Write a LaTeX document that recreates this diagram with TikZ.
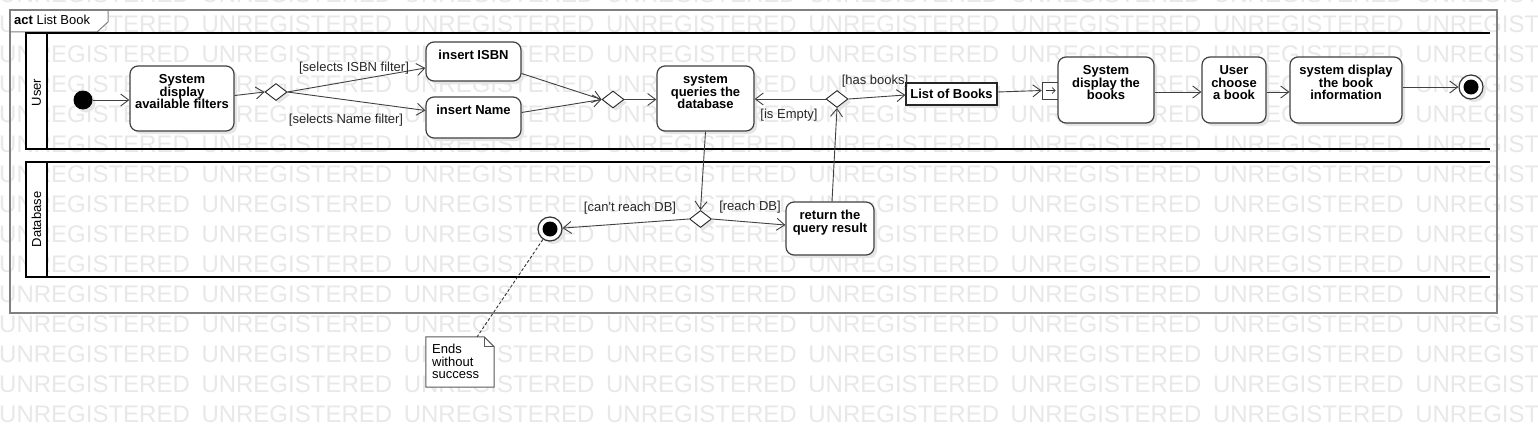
\documentclass[tikz,border=0pt]{standalone}
\usepackage{fontspec}
\setmainfont{Liberation Sans}
\usetikzlibrary{arrows.meta,shapes.geometric,shadows,calc}
\newcommand\topbox[3]{\parbox[c][#2][t]{#1}{\centering\vspace*{7.5pt}\rule{0pt}{10pt}#3\par}}
\tikzset{
  wm/.style={text=black!9, font=\fontsize{24}{24}\selectfont, inner sep=0pt, anchor=base west},
  shad/.style={drop shadow={fill=black!10, opacity=1, shadow xshift=3pt, shadow yshift=-3pt}},
  actbox/.style={draw=black!75, line width=1.2pt, rounded corners=8pt, fill=white, inner sep=0pt,
    font=\bfseries\fontsize{13}{12.5}\selectfont, shad},
  objbox/.style={draw=black!85, line width=1.3pt, fill=white, inner sep=0pt,
    font=\bfseries\fontsize{13}{13}\selectfont, shad},
  decision/.style={diamond, draw=black!85, line width=0.9pt, fill=white, inner sep=0pt,
    minimum width=22pt, minimum height=17pt, shad},
  conn/.style={draw=black!75, line width=0.9pt, -{Straight Barb[length=8pt,width=12pt,line width=0.9pt]}},
  lbl/.style={font=\fontsize{13}{13}\selectfont, text=black!85, inner sep=0pt},
  lane/.style={line width=2pt, draw=black},
  lanelbl/.style={rotate=90, font=\fontsize{13}{13}\selectfont, inner sep=0pt},
}
\begin{document}
\begin{tikzpicture}[x=1pt,y=-1pt]
\useasboundingbox (0,0) rectangle (1538,428);
\fill[white] (0,0) rectangle (1538,428);
% watermark
\foreach \r in {-1,...,13}{
  \foreach \c in {0,...,7}{
    \node[wm] at ({\c*202.3-1},{32.5+\r*30}) {UNREGISTERED};
  }
}
% frame
\draw[black!50, line width=1pt, fill=white] (10,10) -- (108,10) -- (108,22) -- (97,32) -- (10,32) -- cycle;
\draw[black!50, line width=2pt] (10,10) rectangle (1497,313);
\node[anchor=base west, inner sep=0pt, font=\fontsize{13}{13}\selectfont] (title) at (14,25) {\textbf{act}\ List Book};
% lanes
\fill[white] (26,33) rectangle (47,149);
\fill[white] (26,162) rectangle (47,277);
\draw[lane] (1490,33) -- (26,33) -- (26,149) -- (1490,149);
\draw[lane] (47,33) -- (47,149);
\draw[lane] (1490,162) -- (26,162) -- (26,277) -- (1490,277);
\draw[lane] (47,162) -- (47,277);
\node[lanelbl] (userlane) at (36.5,92.5) {User};
\node[lanelbl] (dblane) at (36.5,219.5) {Database};
% nodes
\node[circle, fill=black, minimum size=19pt, inner sep=0pt, shad] (init) at (83,100) {};
\node[actbox] (filters) at (182,98.5) {\topbox{104pt}{65pt}{System\\display\\available filters}};
\node[decision] (d1) at (276,92) {};
\node[actbox] (isbn) at (473.5,61.5) {\topbox{95pt}{39pt}{insert ISBN}};
\node[actbox] (name) at (473.5,117.5) {\topbox{95pt}{41pt}{insert Name}};
\node[decision] (d2) at (613,99.5) {};
\node[actbox] (query) at (705.5,98.5) {\topbox{97pt}{65pt}{system\\queries the\\database}};
\node[decision] (d3) at (837,99) {};
\node[objbox, minimum width=91pt, minimum height=22pt] (listbooks) at (951.5,94) {List of Books};
\node[draw=black!75, line width=0.9pt, fill=white, minimum size=17pt, inner sep=0pt] (pin) at (1050.5,90.5) {};
\draw[black!80, line width=0.7pt, -{Straight Barb[length=3pt,width=6pt,line width=0.7pt]}] ([xshift=-5pt]pin.center) -- ([xshift=5pt]pin.center);
\node[actbox] (books) at (1106,90) {\topbox{96pt}{66pt}{System\\display the\\books}};
\node[actbox] (choose) at (1234,90) {\topbox{64pt}{66pt}{User\\choose\\a book}};
\node[actbox] (info) at (1346,90) {\topbox{112pt}{66pt}{system display\\the book\\information}};
\node[circle, draw=black!80, line width=1.2pt, fill=white, minimum size=24pt, inner sep=0pt, shad] (fin1) at (1471,87) {};
\fill[black] (fin1.center) circle[radius=7.5pt];
\node[decision] (d4) at (700.5,219) {};
\node[actbox] (result) at (830,228.5) {\topbox{88pt}{53pt}{return the\\query result}};
\node[circle, draw=black!80, line width=1.2pt, fill=white, minimum size=24pt, inner sep=0pt, shad] (fin2) at (550,229) {};
\fill[black] (fin2.center) circle[radius=7.5pt];
% note
\node[minimum width=68pt, minimum height=50pt, inner sep=0pt] (note) at (460,362) {};
\draw[black!65, line width=1pt, fill=white] (note.south west) -- (note.north west) -- ([xshift=-10pt]note.north east) -- ([yshift=-10pt]note.north east) -- (note.south east) -- cycle;
\draw[black!65, line width=1pt] ([xshift=-10pt]note.north east) -- ([xshift=-10pt,yshift=-10pt]note.north east) -- ([yshift=-10pt]note.north east);
\node[anchor=north west, align=left, inner sep=0pt, font=\fontsize{13}{12.5}\selectfont] (notetext) at (432,344) {Ends\\without\\success};
\coordinate (notetop) at ($(note.north west)!0.75!(note.north east)$);
\draw[black!80, line width=0.9pt, dash pattern=on 3pt off 2pt] (fin2) -- (notetop);
% connectors
\draw[conn] (init.east) -- (filters.west |- init.east);
\draw[conn] ([yshift=3pt]filters.east) -- (d1.west);
\draw[conn] (d1.east) -- ([yshift=-6.5pt]isbn.west);
\draw[conn] (d1.east) -- ([yshift=7pt]name.west);
\draw[conn] ([yshift=-12pt]isbn.east) -- (d2.west);
\draw[conn] ([yshift=5pt]name.east) -- (d2.west);
\draw[conn] (d2.east) -- (query.west |- d2.east);
\draw[conn] (d3.west) -- (query.east |- d3.west);
\draw[conn] (d3.east) -- ([yshift=-1pt]listbooks.west);
\draw[conn] ([yshift=2pt]listbooks.east) -- (pin.west);
\draw[conn] ([yshift=-2pt]books.east) -- ([yshift=-2pt]choose.west);
\draw[conn] ([yshift=-2pt]choose.east) -- ([yshift=-2pt]info.west);
\draw[conn] ([yshift=3pt]info.east) -- (fin1.west);
\draw[conn] (query.south) -- (d4.north);
\draw[conn] (d4.west) -- (fin2);
\draw[conn] (d4.east) -- ([yshift=3.5pt]result.west);
\draw[conn] ([xshift=2pt]result.north) -- (d3.south);
% labels
\node[lbl] (l1) at (354,68) {[selects ISBN filter]};
\node[lbl] (l2) at (346,120) {[selects Name filter]};
\node[lbl] (l3) at (789,115.5) {[is Empty]};
\node[lbl] (l4) at (875,81) {[has books]};
\node[lbl] (l5) at (630,208) {[can\textquotesingle t reach DB]};
\node[lbl] (l6) at (750,207) {[reach DB]};
\end{tikzpicture}
\end{document}
